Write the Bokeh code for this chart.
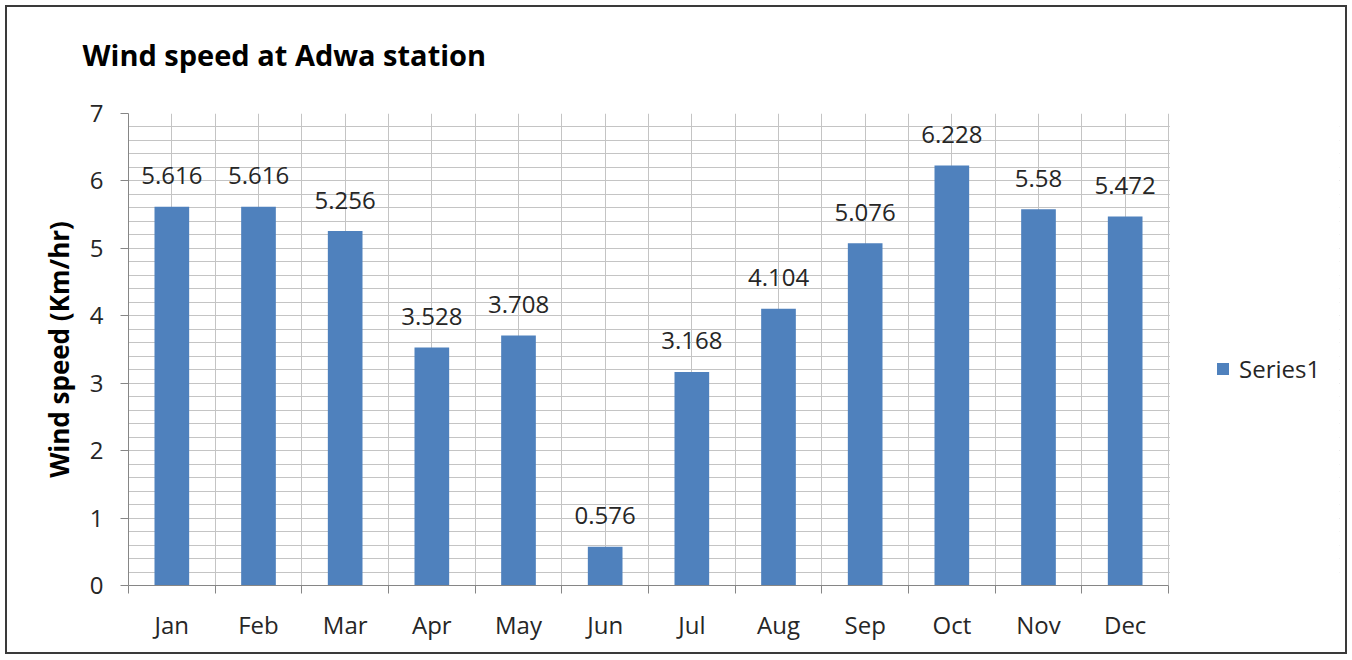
from bokeh.plotting import figure
from bokeh.models import (ColumnDataSource, FixedTicker, SingleIntervalTicker,
                          Range1d, Legend, LegendItem, BoxAnnotation)
from bokeh.core.properties import value
from bokeh.embed import file_html
from bokeh.resources import INLINE

months = ["Jan", "Feb", "Mar", "Apr", "May", "Jun", "Jul", "Aug", "Sep", "Oct", "Nov", "Dec"]
wind_speed = [5.616, 5.616, 5.256, 3.528, 3.708, 0.576, 3.168, 4.104, 5.076, 6.228, 5.58, 5.472]
value_labels = ["5.616", "5.616", "5.256", "3.528", "3.708", "0.576", "3.168", "4.104", "5.076", "6.228", "5.58", "5.472"]
y_ticks = [0, 1, 2, 3, 4, 5, 6, 7]
series_name = "Series1"

FONT = "Open Sans"
BAR = "#4F81BD"
AXIS = "#868686"
GRID = "#C4C4C4"
TEXT = "#262626"

# layout (pixels)
W, H = 1342, 649
LEFT, RIGHT, TOP, BOTTOM = 121, 10, 106, 71
PLOT_W = 1040                      # width of the gridded plot area
FRAME_W = W - LEFT - RIGHT         # frame also holds the legend area on the right

n = len(months)
centers = [i + 0.5 for i in range(n)]
src = ColumnDataSource(dict(x=centers, top=wind_speed, lab=value_labels))

p = figure(width=W, height=H, output_backend="svg", toolbar_location=None,
           x_range=Range1d(0, n * FRAME_W / PLOT_W), y_range=Range1d(0, 7),
           min_border_left=LEFT, min_border_right=RIGHT, min_border_top=TOP, min_border_bottom=BOTTOM)
p.styles = {"border": "2px solid #3a3a3a", "margin-left": "5px", "margin-top": "5px"}
p.outline_line_color = None

# title
p.title.text = "Wind speed at Adwa station"
p.title.text_font = FONT
p.title.text_font_size = "29px"
p.title.text_font_style = "bold"
p.title.text_color = "#000000"
p.title.align = "left"
p.title.vertical_align = "bottom"
p.title.offset = -46
p.title.standoff = 48
p.title.padding = dict(left=0, right=0, top=0, bottom=16)

# grids
p.xgrid.ticker = FixedTicker(ticks=[i * 0.5 for i in range(2 * n + 1)])
p.xgrid.grid_line_color = GRID
p.ygrid.ticker = SingleIntervalTicker(interval=1, num_minor_ticks=5)
p.ygrid.grid_line_color = GRID
p.ygrid.minor_grid_line_color = GRID
# blank out grid lines in the legend area (right of the last category)
p.add_layout(BoxAnnotation(left=n + 0.015, fill_color="white", fill_alpha=1,
                           line_color=None, level="underlay"))

bars = p.vbar(x="x", top="top", width=0.4, bottom=0, source=src, fill_color=BAR, line_color=None)
p.text(x="x", y="top", text="lab", source=src, text_align="center", text_baseline="middle",
       y_offset=-31, text_font=value(FONT), text_font_size="24px", text_color=TEXT)

# x axis
xa = p.xaxis[0]
xa.bounds = (0, n)
xa.ticker = FixedTicker(ticks=centers, minor_ticks=list(range(n + 1)))
xa.major_label_overrides = {c: m for c, m in zip(centers, months)}
xa.major_tick_line_color = None
xa.major_tick_out = 0
xa.major_tick_in = 0
xa.minor_tick_line_color = AXIS
xa.minor_tick_out = 8
xa.minor_tick_in = 0
xa.axis_line_color = AXIS
xa.major_label_standoff = 14
xa.major_label_text_font = FONT
xa.major_label_text_font_size = "24px"
xa.major_label_text_color = TEXT

# y axis
ya = p.yaxis[0]
ya.ticker = FixedTicker(ticks=y_ticks)
ya.major_tick_out = 8
ya.major_tick_in = 0
ya.major_tick_line_color = AXIS
ya.minor_tick_line_color = None
ya.axis_line_color = AXIS
ya.major_label_standoff = 17
ya.major_label_text_font = FONT
ya.major_label_text_font_size = "24px"
ya.major_label_text_color = TEXT
ya.axis_label = "Wind speed (Km/hr)"
ya.axis_label_text_font = FONT
ya.axis_label_text_font_size = "26px"
ya.axis_label_text_font_style = "bold"
ya.axis_label_text_color = "#000000"
ya.axis_label_standoff = 10

legend = Legend(items=[LegendItem(label=series_name, renderers=[bars])],
                location=(PLOT_W + 47, 200), border_line_color=None, background_fill_alpha=0,
                label_text_font=FONT, label_text_font_size="24px", label_text_color=TEXT,
                glyph_width=15, glyph_height=15, label_standoff=9, margin=0, padding=0)
p.add_layout(legend, "center")

open("out.html", "w").write(file_html(p, INLINE))
